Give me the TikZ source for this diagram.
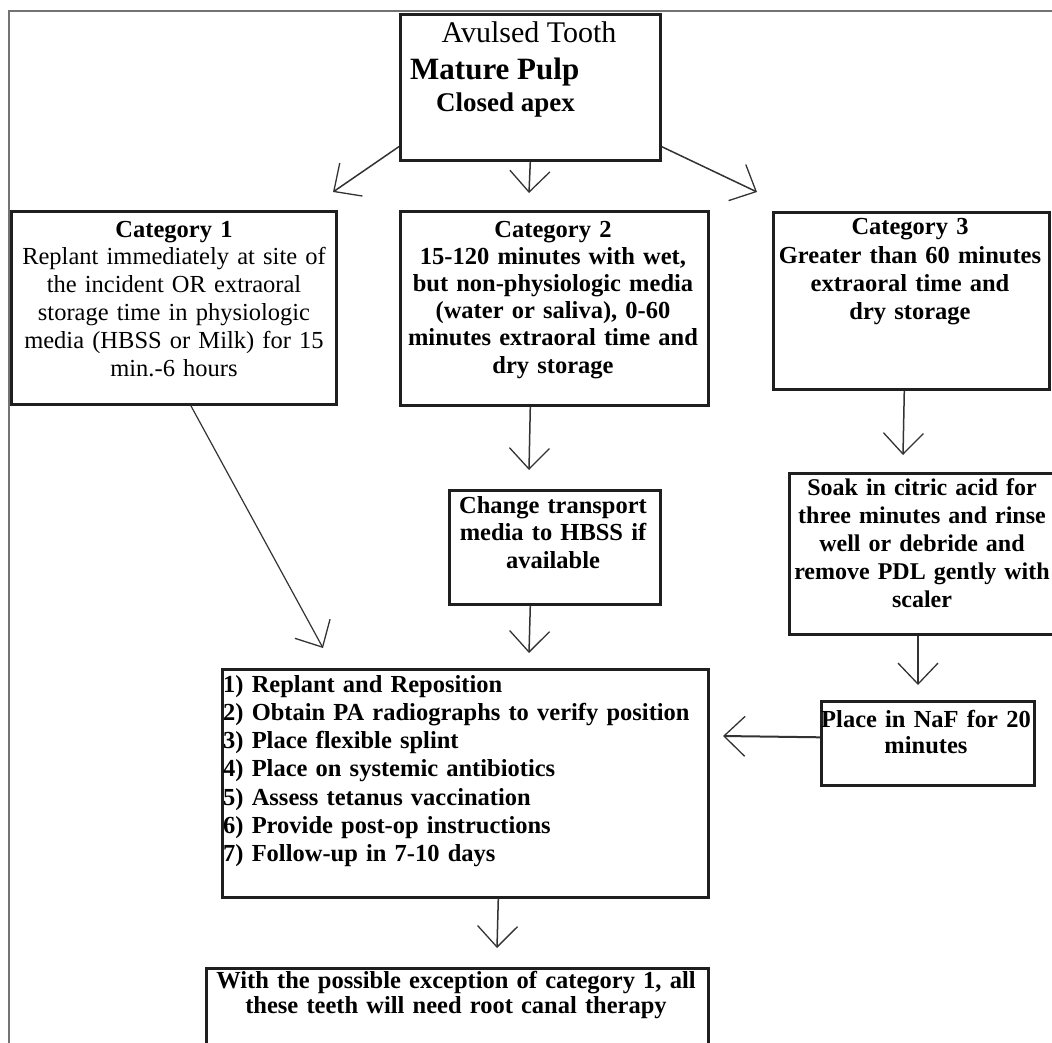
\documentclass[tikz,border=0pt]{standalone}
\usepackage{fontspec}
\setmainfont{Liberation Serif}
\usetikzlibrary{arrows.meta,calc}
\begin{document}
\begin{tikzpicture}[x=1pt,y=-1pt,
  box/.style={draw=black!88, line width=2.6pt, rectangle, inner sep=0pt, anchor=north west},
  conn/.style={draw=black!80, line width=1.5pt, -{Straight Barb[length=21pt,width=40pt,line width=1.3pt]}},
  txt/.style={inner sep=0pt, align=center, anchor=base},
  body/.style={font={\fontsize{24.5}{27.8}\selectfont}},
]
\useasboundingbox (0,0) rectangle (1052,1043);
\clip (0,0) rectangle (1052,1043);
\fill[white] (0,0) rectangle (1052,1043);
% outer frame
\draw[black!55, line width=1.2pt] (9,1050) -- (9,11) -- (1060,11);

% boxes
\node[box, minimum width=260pt, minimum height=146pt] (top) at (399,13) {};
\node[box, minimum width=325pt, minimum height=193pt] (c1) at (10,210) {};
\node[box, minimum width=308pt, minimum height=194pt] (c2) at (399,210) {};
\node[box, minimum width=276pt, minimum height=177pt] (c3) at (772,211) {};
\node[box, minimum width=211pt, minimum height=114pt] (chg) at (448,489) {};
\node[box, minimum width=280pt, minimum height=161pt] (soak) at (788,472) {};
\node[box, minimum width=213pt, minimum height=84pt] (naf) at (820,700) {};
\node[box, minimum width=486pt, minimum height=228pt] (big) at (221,668) {};
\node[box, minimum width=502pt, minimum height=110pt] (bot) at (205,967) {};

% texts
\node[txt, font={\fontsize{30}{32}\selectfont}] (t0a) at (529,43) {Avulsed Tooth};
\node[txt, anchor=base west, font={\fontsize{31}{33}\selectfont\bfseries}] (t0b) at (410,80) {Mature Pulp};
\node[txt, anchor=base west, font={\fontsize{27}{29}\selectfont\bfseries}] (t0c) at (436,112) {Closed apex};

\node[txt, body, text width=320pt] (tc1) at (174,237) {\textbf{Category 1}\\
Replant immediately at site of\\ the incident OR extraoral\\ storage time in physiologic\\ media (HBSS or Milk) for 15\\ min.-6 hours};
\node[txt, body, text width=305pt, font={\fontsize{24.5}{27.2}\selectfont\bfseries}] (tc2) at (553,237) {Category 2\\
15-120 minutes with wet,\\ but non-physiologic media\\ (water or saliva), 0-60\\ minutes extraoral time and\\ dry storage};
\node[txt, body, text width=272pt, font={\fontsize{24.5}{28.3}\selectfont\bfseries}] (tc3) at (910,235) {Category 3\\
Greater than 60 minutes\\ extraoral time and\\ dry storage};
\node[txt, text width=208pt, font={\fontsize{24.5}{27.5}\selectfont\bfseries}] (tchg) at (553,513) {Change transport\\ media to HBSS if\\ available};
\node[txt, text width=262pt, font={\fontsize{24}{28.2}\selectfont\bfseries}] (tsoak) at (922,495) {Soak in citric acid for\\ three minutes and rinse\\ well or debride and\\ remove PDL gently with\\ scaler};
\node[txt, text width=212pt, font={\fontsize{24.5}{26}\selectfont\bfseries}] (tnaf) at (926,727) {Place in NaF for 20\\ minutes};
\node[txt, anchor=base west, align=left, text width=480pt, font={\fontsize{24.5}{28.3}\selectfont\bfseries}] (tbig) at (223,692) {1) Replant and Reposition\\
2) Obtain PA radiographs to verify position\\
3) Place flexible splint\\
4) Place on systemic antibiotics\\
5) Assess tetanus vaccination\\
6) Provide post-op instructions\\
7) Follow-up in 7-10 days};
\node[txt, text width=498pt, font={\fontsize{24.5}{25}\selectfont\bfseries}] (tbot) at (456,988) {With the possible exception of category 1, all\\ these teeth will need root canal therapy};

% arrow tips
\coordinate (a1) at (333,192);
\coordinate (a2) at (529,193);
\coordinate (a3) at (757,192);
\coordinate (a4) at (323,648);
\coordinate (a5) at (529,470);
\coordinate (a6) at (903,455);
\coordinate (a7) at (529,653);
\coordinate (a8) at (918,685);
\coordinate (a9) at (723,736);
\coordinate (a10) at (497,948);

% connectors
\draw[conn] ([yshift=15pt]top.south west) -- (a1);
\draw[conn] (top.south) -- (a2);
\draw[conn] ([yshift=15pt]top.south east) -- (a3);
\draw[conn, line width=1.2pt] ([xshift=17pt]c1.south) -- (a4);
\draw[conn] (c2.south -| top.south) -- (a5);
\draw[conn] ([xshift=-7pt]c3.south) -- (a6);
\draw[conn] (chg.south -| top.south) -- (a7);
\draw[conn] (soak.south -| a8) -- (a8);
\draw[conn, line width=2pt] ([yshift=6pt]naf.west) -- (a9);
\draw[conn] ([xshift=33pt]big.south) -- (a10);
\end{tikzpicture}
\end{document}
